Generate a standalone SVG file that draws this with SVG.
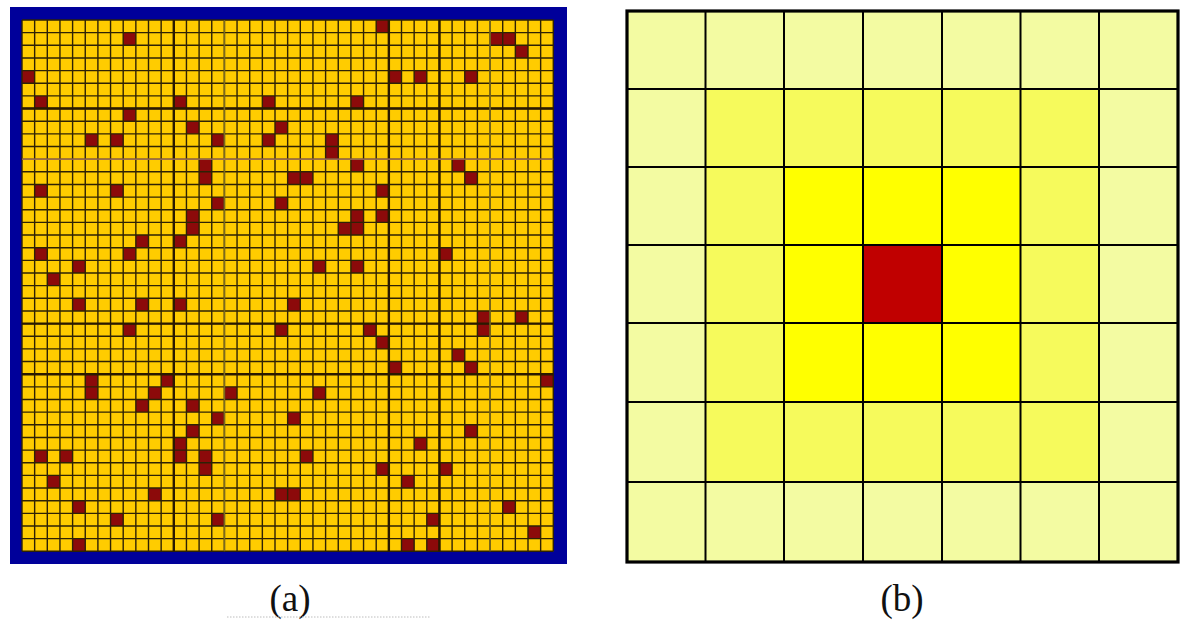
<svg xmlns="http://www.w3.org/2000/svg" width="1203" height="632" viewBox="0 0 1203 632">
<style>
.red{fill:#8c0a0a}
.grid{fill:none;stroke:#2e2205;stroke-width:1.4}
.gridb{fill:none;stroke:#2a1a00;stroke-width:2.4}
.b1{fill:#f3fba2}
.b2{fill:#f6fa5c}
.b3{fill:#ffff00}
.b4{fill:#c00000}
.lbl{font-family:"Liberation Serif","Times New Roman",serif;font-size:37px;fill:#111}
</style>
<rect width="1203" height="632" fill="#ffffff"/>
<g id="panel-a">
<rect x="10" y="7" width="557" height="557" fill="#00009a"/>
<g transform="translate(22,20) scale(12.65)">
<rect x="0" y="0" width="42" height="42" fill="#ffcc00"/>
<g class="red">
<rect x="28" y="0" width="1" height="1"/>
<rect x="8" y="1" width="1" height="1"/><rect x="37" y="1" width="2" height="1"/>
<rect x="39" y="2" width="1" height="1"/>
<rect x="0" y="4" width="1" height="1"/><rect x="29" y="4" width="1" height="1"/><rect x="31" y="4" width="1" height="1"/><rect x="35" y="4" width="1" height="1"/>
<rect x="1" y="6" width="1" height="1"/><rect x="12" y="6" width="1" height="1"/><rect x="19" y="6" width="1" height="1"/><rect x="26" y="6" width="1" height="1"/>
<rect x="8" y="7" width="1" height="1"/>
<rect x="13" y="8" width="1" height="1"/><rect x="20" y="8" width="1" height="1"/>
<rect x="5" y="9" width="1" height="1"/><rect x="7" y="9" width="1" height="1"/><rect x="15" y="9" width="1" height="1"/><rect x="19" y="9" width="1" height="1"/><rect x="24" y="9" width="1" height="2"/>
<rect x="14" y="11" width="1" height="2"/><rect x="26" y="11" width="1" height="1"/><rect x="34" y="11" width="1" height="1"/>
<rect x="21" y="12" width="2" height="1"/><rect x="35" y="12" width="1" height="1"/>
<rect x="1" y="13" width="1" height="1"/><rect x="7" y="13" width="1" height="1"/><rect x="28" y="13" width="1" height="1"/>
<rect x="15" y="14" width="1" height="1"/><rect x="20" y="14" width="1" height="1"/>
<rect x="13" y="15" width="1" height="2"/><rect x="26" y="15" width="1" height="2"/><rect x="28" y="15" width="1" height="1"/>
<rect x="25" y="16" width="1" height="1"/>
<rect x="9" y="17" width="1" height="1"/><rect x="12" y="17" width="1" height="1"/>
<rect x="1" y="18" width="1" height="1"/><rect x="8" y="18" width="1" height="1"/><rect x="33" y="18" width="1" height="1"/>
<rect x="4" y="19" width="1" height="1"/><rect x="23" y="19" width="1" height="1"/><rect x="26" y="19" width="1" height="1"/>
<rect x="2" y="20" width="1" height="1"/>
<rect x="4" y="22" width="1" height="1"/><rect x="9" y="22" width="1" height="1"/><rect x="12" y="22" width="1" height="1"/><rect x="21" y="22" width="1" height="1"/>
<rect x="36" y="23" width="1" height="2"/><rect x="39" y="23" width="1" height="1"/>
<rect x="8" y="24" width="1" height="1"/><rect x="20" y="24" width="1" height="1"/><rect x="27" y="24" width="1" height="1"/>
<rect x="28" y="25" width="1" height="1"/>
<rect x="34" y="26" width="1" height="1"/>
<rect x="29" y="27" width="1" height="1"/><rect x="35" y="27" width="1" height="1"/>
<rect x="5" y="28" width="1" height="2"/><rect x="11" y="28" width="1" height="1"/><rect x="41" y="28" width="1" height="1"/>
<rect x="10" y="29" width="1" height="1"/><rect x="16" y="29" width="1" height="1"/><rect x="23" y="29" width="1" height="1"/>
<rect x="9" y="30" width="1" height="1"/><rect x="13" y="30" width="1" height="1"/>
<rect x="15" y="31" width="1" height="1"/><rect x="21" y="31" width="1" height="1"/>
<rect x="13" y="32" width="1" height="1"/><rect x="35" y="32" width="1" height="1"/>
<rect x="12" y="33" width="1" height="2"/><rect x="31" y="33" width="1" height="1"/>
<rect x="1" y="34" width="1" height="1"/><rect x="3" y="34" width="1" height="1"/><rect x="14" y="34" width="1" height="2"/><rect x="22" y="34" width="1" height="1"/>
<rect x="28" y="35" width="1" height="1"/><rect x="33" y="35" width="1" height="1"/>
<rect x="2" y="36" width="1" height="1"/><rect x="30" y="36" width="1" height="1"/>
<rect x="10" y="37" width="1" height="1"/><rect x="20" y="37" width="2" height="1"/>
<rect x="4" y="38" width="1" height="1"/><rect x="38" y="38" width="1" height="1"/>
<rect x="7" y="39" width="1" height="1"/><rect x="15" y="39" width="1" height="1"/><rect x="32" y="39" width="1" height="1"/>
<rect x="40" y="40" width="1" height="1"/>
<rect x="4" y="41" width="1" height="1"/><rect x="30" y="41" width="1" height="1"/><rect x="32" y="41" width="1" height="1"/>
</g>
<path class="grid" vector-effect="non-scaling-stroke" d="M0 0V42M1 0V42M2 0V42M3 0V42M4 0V42M5 0V42M6 0V42M7 0V42M8 0V42M9 0V42M10 0V42M11 0V42M12 0V42M13 0V42M14 0V42M15 0V42M16 0V42M17 0V42M18 0V42M19 0V42M20 0V42M21 0V42M22 0V42M23 0V42M24 0V42M25 0V42M26 0V42M27 0V42M28 0V42M29 0V42M30 0V42M31 0V42M32 0V42M33 0V42M34 0V42M35 0V42M36 0V42M37 0V42M38 0V42M39 0V42M40 0V42M41 0V42M42 0V42M0 0H42M0 1H42M0 2H42M0 3H42M0 4H42M0 5H42M0 6H42M0 7H42M0 8H42M0 9H42M0 10H42M0 11H42M0 12H42M0 13H42M0 14H42M0 15H42M0 16H42M0 17H42M0 18H42M0 19H42M0 20H42M0 21H42M0 22H42M0 23H42M0 24H42M0 25H42M0 26H42M0 27H42M0 28H42M0 29H42M0 30H42M0 31H42M0 32H42M0 33H42M0 34H42M0 35H42M0 36H42M0 37H42M0 38H42M0 39H42M0 40H42M0 41H42M0 42H42"/>
<path class="gridb" vector-effect="non-scaling-stroke" d="M12 0V42M29 0V42M33 0V42M0 7H42M0 24H42M0 28H42"/>
<path fill="none" stroke="#7a6a20" stroke-width="1.6" vector-effect="non-scaling-stroke" d="M16 0V42M37 0V42"/>
<path fill="none" stroke="#b07a60" stroke-width="1.4" vector-effect="non-scaling-stroke" d="M0 11H42"/>
</g>
</g>
<g id="panel-b">
<rect class="b1" x="627" y="11" width="551" height="551"/>
<rect class="b2" x="705.5" y="89" width="394" height="393"/>
<rect class="b3" x="784" y="167" width="236.5" height="235"/>
<rect class="b4" x="863" y="245" width="79" height="78"/>
<path fill="none" stroke="#000" stroke-width="2" d="M705.5 11V562M784 11V562M863 11V562M942 11V562M1020.5 11V562M1099 11V562M627 89H1178M627 167H1178M627 245H1178M627 323H1178M627 402H1178M627 482H1178"/>
<rect x="627" y="11" width="551" height="551" fill="none" stroke="#000" stroke-width="3.2"/>
</g>
<g id="labels">
<text class="lbl" x="290" y="611" text-anchor="middle">(a)</text>
<text class="lbl" x="902" y="611" text-anchor="middle">(b)</text>
<line x1="227" y1="617" x2="431" y2="617" stroke="#bdbdbd" stroke-width="1" stroke-dasharray="1.5 1.5"/>
</g>
</svg>
